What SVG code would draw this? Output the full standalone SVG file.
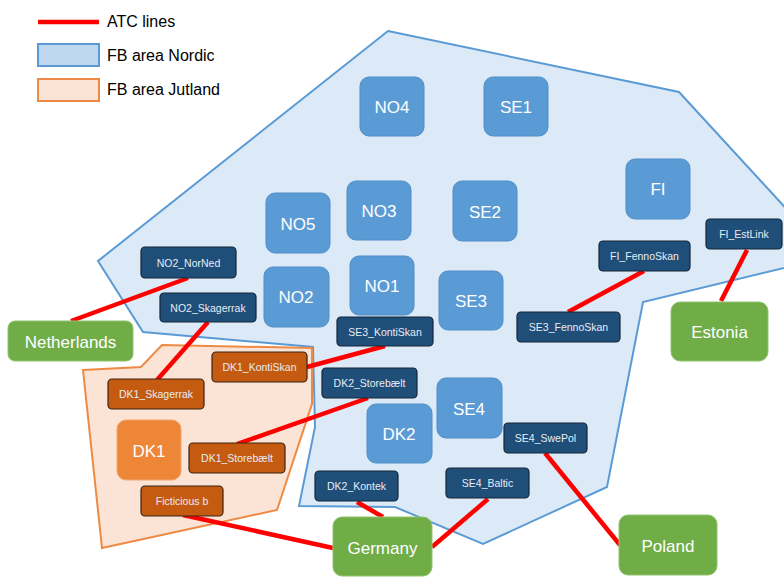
<svg xmlns="http://www.w3.org/2000/svg" width="784" height="577" viewBox="0 0 784 577">
<style>
text{font-family:"Liberation Sans",Arial,sans-serif;fill:#fff;text-anchor:middle;dominant-baseline:central}
.big rect{fill:#5b9bd5;stroke:#4f8fc8;stroke-width:1}
.big text{font-size:17px}
.dk rect{fill:#1f4e79;stroke:#15263a;stroke-width:1.2}
.dk text,.or text{font-size:10.5px;fill:#e6edf5}
.or rect{fill:#c55a11;stroke:#3a2414;stroke-width:1.2}
.gr rect{fill:#70ad47;stroke:#8fc46c;stroke-width:1}
.gr text{font-size:17px}
.atc{stroke:#ff0000;stroke-width:4.5;stroke-linecap:butt}
.leg{fill:#000;text-anchor:start;font-size:16px}
</style>
<rect width="784" height="577" fill="#fff"/>
<g id="areas">
<polygon points="388,31 679,92 792,215 792,266 643,302 607,487 483,544 395,507 299,506 315,427 313,347 143,332 98,261" fill="#dce9f6" stroke="#5b9bd5" stroke-width="2"/>
<polygon points="83,370 141,367 162,345 312,348 312,404 277,510 102,548" fill="#fbe4d5" stroke="#ed8a43" stroke-width="2"/>
</g>
<g id="legend">
<line x1="38" y1="22" x2="99" y2="22" class="atc"/>
<text x="107" y="21" class="leg">ATC lines</text>
<rect x="38" y="44" width="61" height="22" fill="#bdd7ee" stroke="#5b9bd5" stroke-width="2"/>
<text x="107" y="55" class="leg">FB area Nordic</text>
<rect x="38" y="79" width="61" height="22" fill="#fbe4d5" stroke="#ed8a43" stroke-width="2"/>
<text x="107" y="89" class="leg">FB area Jutland</text>
</g>
<g id="connectors">
<line class="atc" x1="71" y1="321" x2="188" y2="278"/>
<line class="atc" x1="208" y1="322" x2="157" y2="380"/>
<line class="atc" x1="307" y1="367" x2="385" y2="346"/>
<line class="atc" x1="237" y1="444" x2="368" y2="398"/>
<line class="atc" x1="568" y1="312" x2="644" y2="271"/>
<line class="atc" x1="747" y1="250" x2="721" y2="301"/>
<line class="atc" x1="357" y1="502" x2="383" y2="517"/>
<line class="atc" x1="183" y1="515" x2="333" y2="548"/>
<line class="atc" x1="488" y1="499" x2="432" y2="547"/>
<line class="atc" x1="545" y1="453" x2="620" y2="545"/>
</g>
<g id="NO4" class="big"><rect x="360" y="77" width="64" height="59" rx="9"/><text x="392" y="107">NO4</text></g>
<g id="SE1" class="big"><rect x="484" y="77" width="64" height="59" rx="9"/><text x="516" y="107">SE1</text></g>
<g id="NO3" class="big"><rect x="347" y="181" width="64" height="59" rx="9"/><text x="379" y="211">NO3</text></g>
<g id="SE2" class="big"><rect x="453" y="181" width="64" height="60" rx="9"/><text x="485" y="212">SE2</text></g>
<g id="NO5" class="big"><rect x="266" y="193" width="64" height="60" rx="9"/><text x="298" y="224">NO5</text></g>
<g id="NO2" class="big"><rect x="264" y="267" width="65" height="60" rx="9"/><text x="296" y="297">NO2</text></g>
<g id="NO1" class="big"><rect x="350" y="256" width="64" height="59" rx="9"/><text x="382" y="286">NO1</text></g>
<g id="SE3" class="big"><rect x="439" y="271" width="64" height="59" rx="9"/><text x="471" y="301">SE3</text></g>
<g id="FI" class="big"><rect x="626" y="159" width="64" height="60" rx="9"/><text x="658" y="189">FI</text></g>
<g id="SE4" class="big"><rect x="437" y="378" width="65" height="60" rx="9"/><text x="469" y="409">SE4</text></g>
<g id="DK2" class="big"><rect x="367" y="404" width="65" height="59" rx="9"/><text x="399" y="434">DK2</text></g>
<g id="DK1"><rect x="117" y="420" width="64" height="60" rx="9" fill="#ee8638" stroke="#f3a46a" stroke-width="1"/><text x="149" y="451" style="font-size:17px">DK1</text></g>
<g id="NO2_NorNed" class="dk"><rect x="141" y="247" width="95" height="31" rx="4"/><text x="188.5" y="263">NO2_NorNed</text></g>
<g id="NO2_Skagerrak" class="dk"><rect x="160" y="293" width="96" height="29" rx="4"/><text x="208" y="308">NO2_Skagerrak</text></g>
<g id="SE3_KontiSkan" class="dk"><rect x="337" y="317" width="96" height="29" rx="4"/><text x="385" y="332">SE3_KontiSkan</text></g>
<g id="DK2_Storebaelt" class="dk"><rect x="322" y="368" width="95" height="30" rx="4"/><text x="369.5" y="383">DK2_Storebælt</text></g>
<g id="SE3_FennoSkan" class="dk"><rect x="517" y="312" width="103" height="30" rx="4"/><text x="568.5" y="327">SE3_FennoSkan</text></g>
<g id="FI_FennoSkan" class="dk"><rect x="599" y="241" width="91" height="30" rx="4"/><text x="644.5" y="256">FI_FennoSkan</text></g>
<g id="FI_EstLink" class="dk"><rect x="706" y="219" width="76" height="30" rx="4"/><text x="744" y="234">FI_EstLink</text></g>
<g id="DK2_Kontek" class="dk"><rect x="315" y="471" width="83" height="30" rx="4"/><text x="356.5" y="486">DK2_Kontek</text></g>
<g id="SE4_Baltic" class="dk"><rect x="446" y="468" width="83" height="30" rx="4"/><text x="487.5" y="483">SE4_Baltic</text></g>
<g id="SE4_SwePol" class="dk"><rect x="504" y="423" width="83" height="30" rx="4"/><text x="545.5" y="438">SE4_SwePol</text></g>
<g id="DK1_KontiSkan" class="or"><rect x="212" y="352" width="95" height="30" rx="4"/><text x="259.5" y="367">DK1_KontiSkan</text></g>
<g id="DK1_Skagerrak" class="or"><rect x="108" y="379" width="96" height="30" rx="4"/><text x="156" y="394">DK1_Skagerrak</text></g>
<g id="DK1_Storebaelt" class="or"><rect x="189" y="443" width="96" height="30" rx="4"/><text x="237" y="458">DK1_Storebælt</text></g>
<g id="Ficticious_b" class="or"><rect x="141" y="486" width="82" height="30" rx="4"/><text x="182" y="501">Ficticious b</text></g>
<g id="Netherlands" class="gr"><rect x="8" y="321" width="125" height="40" rx="7"/><text x="70.5" y="342">Netherlands</text></g>
<g id="Estonia" class="gr"><rect x="671" y="302" width="97" height="59" rx="9"/><text x="719.5" y="332">Estonia</text></g>
<g id="Germany" class="gr"><rect x="333" y="517" width="99" height="59" rx="9"/><text x="382.5" y="548">Germany</text></g>
<g id="Poland" class="gr"><rect x="619" y="515" width="98" height="60" rx="9"/><text x="668" y="546">Poland</text></g>
</svg>
